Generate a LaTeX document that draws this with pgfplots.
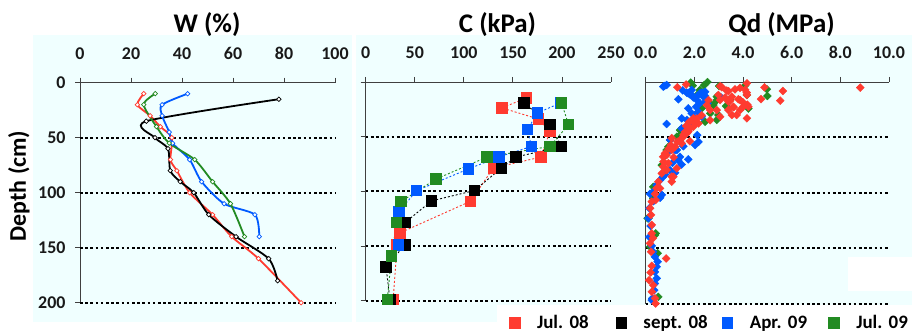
\documentclass[border=0pt]{standalone}
\usepackage{fontspec}
\setmainfont{Carlito}
\usepackage{pgfplots}
\usepackage{pgfplotstable}
\pgfplotsset{compat=1.18}
\definecolor{cred}{RGB}{255,59,48}
\definecolor{cblue}{RGB}{0,90,255}
\definecolor{cgreen}{RGB}{34,139,34}
\definecolor{bgc}{RGB}{240,255,255}

% ---- panel 1: W (%) ----
\pgfplotstableread{
W d
25 10
22.5 20
27.5 30
31.5 40
36 50
35.5 70
38 80
43 100
52 120
59.5 140
70 160
86.7 200
}\wred
\pgfplotstableread{
W d
78 15
26 35
29.4 50
34.5 60
35.4 80
39.3 90
44.6 100
50.5 120
61.2 140
74 160
77.5 180
}\wblack
\pgfplotstableread{
W d
42.2 10
32.2 20
32.2 30
35 45
36.3 55
43 70
47.7 90
56.5 110
68.6 120
70.3 140
}\wblue
\pgfplotstableread{
W d
29.5 10
25 20
30 40
35 55
45 70
52 90
59 110
64.5 140
}\wgreen
% ---- panel 2: C (kPa) ----
\pgfplotstableread{
C d
164 14.5
138.8 23.7
175.8 33.8
187.7 45
178.8 68.6
130 78.7
107 109
34.9 138
32 149
28 199
}\cred
\pgfplotstableread{
C d
161.4 19
187.7 39
199.5 59
153 68.6
138.4 78.7
110.6 99.3
67.2 108.7
40 128.6
40 149
20.7 169
24.7 199
}\cblack
\pgfplotstableread{
C d
199 19
175 28.3
164.8 43.6
169 58.9
135.6 68.6
105 79.4
51.9 99.3
33.9 118.5
33.2 149
}\cblue
\pgfplotstableread{
C d
199.5 19
206.8 39
187.7 58.9
123.7 68.6
71.5 88.8
35.9 109.4
31.5 128.6
26.4 158.9
22 199
}\cgreen
% ---- panel 3: Qd (MPa) ----
\pgfplotstableread{
Q d
1.3 4.8
1.66 2.3
3.06 3.8
3.13 4.8
3.33 7.8
3.67 6.6
3.88 5.3
4.16 1.2
4.09 7
4.16 11.7
4.15 9.6
4.88 4.8
5.64 8.1
5.53 16.9
4.74 15.4
8.82 5.1
3.54 13.3
3.88 16.3
4.22 22.3
4.16 32.8
3.88 25.3
3.6 22.3
3.4 17.8
3.06 16.3
2.99 11.7
3.4 25.3
3.06 31.3
2.92 25.3
2.65 25.3
2.51 20.8
3.74 29.8
3.54 29.8
2.58 16.3
3.4 8.2
3.26 14
3.47 17
3.81 15.5
4.0 18.4
3.61 22.8
4.18 20.5
4.02 22
2.3 30
2.1 33
2.65 34.5
2.17 37.4
1.96 40.4
1.75 44.7
1.55 47.7
1.07 50.6
1.82 53.5
2.03 37.3
1.82 41.8
1.62 44.9
1.55 49.4
1.41 52.4
1.21 58.4
1.07 61.4
0.79 64.4
0.72 67.5
0.93 73.4
1.07 85.5
0.86 79.5
1.28 78
1.48 55.4
1.69 46.3
0.72 76.5
0.66 82.5
0.52 90
0.45 96
1.96 32.8
1.79 35.9
1.66 39.7
1.03 56.9
1.14 85.5
1.07 90
0.86 66
0.73 71.9
0.59 96
1.3 54
0.95 60
1.15 68
0.38 101
0.41 106.6
0.25 108
0.18 114
0.22 120
0.25 129
0.25 136.7
0.3 141
0.18 145.7
0.22 153.3
0.84 159.3
0.25 166
0.2 172
0.14 179
0.31 183.4
0.25 189.4
0.38 195.4
0.41 200
}\qred
\pgfplotstableread{
Q d
0.77 3.6
0.86 2.7
0.72 4.2
1.34 15.6
1.52 7.6
1.69 9.6
1.82 11.1
1.96 14
2.31 9.6
2.44 12.6
1.75 10.2
1.89 11.7
2.12 12.6
2.37 11.7
2.44 17.8
2.23 19.2
2.07 22.3
2.16 26.8
1.89 28.3
2.3 31.3
1.69 34.3
0.86 37.9
1.48 41.8
1.69 46.3
2.12 47.9
2.03 56.9
1.41 53.9
1.21 61.4
1 52.4
1.34 70.5
1.75 69.8
1 79.5
0.59 88.5
0.45 93
0.31 99
0.66 102
1.75 23.8
2.1 16.3
2.37 13.3
2.23 10.2
2.44 8.8
1.89 7.2
2.54 19.2
2.16 27.7
2.03 32.8
1.48 32.8
1.71 44.9
1.9 40
3.1 14
0.93 63
1.41 67.5
1.21 81.9
2.17 54
1.28 61.4
1.55 58
1.1 73
0.8 83.5
0.7 86
1.48 74.5
0.59 104.5
0.32 107.5
0.15 114
0.18 101
0.11 123
0.2 130
0.15 140
0.25 148
0.31 153.3
0.38 157.8
0.49 162.3
0.45 166.8
0.38 171.4
0.45 177.3
0.38 181.9
0.35 187.9
0.27 195.4
0.25 197
}\qblue
\pgfplotstableread{
Q d
1.85 0.6
2.54 0
2.4 3
1.93 3.3
2.23 7.2
2.1 12
3.02 3.6
2.92 13.3
2.58 17.8
2.78 20.8
2.65 28.3
2.92 34.3
2.44 35.9
3.47 16.3
4.98 6.6
5 12.6
4.16 11.7
4.09 3
4.22 24
2.92 16.3
3.3 21.7
2.99 29.8
2.3 23.8
1.75 38.8
1.41 43.4
1.62 44.9
1.34 49.4
1.28 49.4
1 52.4
0.93 58.4
0.86 61.4
0.8 66
0.66 75
0.31 94.6
0.31 105
0.08 123
0.11 123.1
0.41 136.7
0.38 138.2
0.18 148.8
0.49 154.7
0.52 194
}\qgreen

\pgfplotsset{
  panel/.style={
    scale only axis,
    y dir=reverse, ymin=0, ymax=200,
    axis x line=top, axis y line=left,
    axis line style={-, black!75, line width=0.8bp},
    tick align=outside,
    major tick length=5bp,
    tick style={black!75, line width=0.8bp},
    ytick={0,50,100,150,200},
    extra y ticks={50,100,150,200},
    extra y tick labels={},
    extra y tick style={grid=major, major tick length=0pt,
      major grid style={black, line width=2bp, dash pattern=on 2.6bp off 2.6bp}},
    ticklabel style={font=\fontsize{18}{18}\selectfont\bfseries, text=black!90},
    xticklabel style={yshift=15bp},
    /pgf/number format/assume math mode=true,
    clip=false,
  },
  wline/.style={line width=1.8bp, smooth, tension=0.45, mark=square*, mark size=1.6bp,
    mark options={fill=white, line width=0.7bp, rotate=45}},
  cline/.style={line width=0.9bp, dash pattern=on 2bp off 2bp, mark=square*, mark size=5.2bp,
    mark options={solid}},
  qpts/.style={only marks, mark=square*, mark size=2.8bp, mark options={rotate=45}},
}

\begin{document}
\begin{tikzpicture}
\path[use as bounding box] (0,0) rectangle (912bp,333bp);
\fill[white] (0,0) rectangle (912bp,333bp);
\fill[bgc] (33bp,11bp) rectangle (912bp,298bp);
\fill[white] (352bp,11bp) rectangle (356bp,298bp);
\fill[white] (497bp,0bp) rectangle (912bp,28bp);
\fill[white] (848bp,42bp) rectangle (912bp,76bp);

% Panel 1
\begin{axis}[panel, at={(80bp,250.3bp)}, anchor=north west,
  width=255bp, height=220bp, xmin=0, xmax=100, xtick={0,20,...,100},
  yticklabel style={xshift=-6bp}]
  \addplot[cred, wline] table[x=W,y=d] {\wred};
  \addplot[black, wline] table[x=W,y=d] {\wblack};
  \addplot[cblue, wline] table[x=W,y=d] {\wblue};
  \addplot[cgreen, wline] table[x=W,y=d] {\wgreen};
\end{axis}

% Panel 2
\begin{axis}[panel, at={(365.7bp,251bp)}, anchor=north west,
  width=245.3bp, height=218.7bp, xmin=0, xmax=250, xtick={0,50,...,250},
  yticklabels={},
  legend style={at={(0.584,-0.102)}, anchor=west, draw=none, fill=none, inner sep=0pt,
    legend columns=4, font=\fontsize{19}{19}\selectfont\bfseries,
    nodes={inner sep=0pt, text width=76bp, align=left},
    /tikz/every odd column/.append style={column sep=17bp},
    /tikz/every even column/.append style={column sep=2.5bp}}]
  \addlegendimage{legend image code/.code={\fill[cred] (0bp,-5bp) rectangle (10.5bp,5.5bp);}}
  \addlegendentry{Jul.\ 08}
  \addlegendimage{legend image code/.code={\fill[black] (0bp,-5bp) rectangle (10.5bp,5.5bp);}}
  \addlegendentry{sept.\ 08}
  \addlegendimage{legend image code/.code={\fill[cblue] (0bp,-5bp) rectangle (10.5bp,5.5bp);}}
  \addlegendentry{Apr.\ 09}
  \addlegendimage{legend image code/.code={\fill[cgreen] (0bp,-5bp) rectangle (10.5bp,5.5bp);}}
  \addlegendentry{Jul.\ 09}
  \addplot[cred, cline, forget plot] table[x=C,y=d] {\cred};
  \addplot[black, cline, forget plot] table[x=C,y=d] {\cblack};
  \addplot[cblue, cline, forget plot] table[x=C,y=d] {\cblue};
  \addplot[cgreen, cline, forget plot] table[x=C,y=d] {\cgreen};
\end{axis}

% Panel 3
\begin{axis}[panel, at={(645.7bp,251bp)}, anchor=north west,
  width=243.3bp, height=221.5bp, xmin=0, xmax=10, xtick={0,2,...,10},
  yticklabels={}, y tick style={draw=none},
  xticklabel style={/pgf/number format/.cd, fixed, fixed zerofill, precision=1}]
  \addplot[cgreen, qpts] table[x=Q,y=d] {\qgreen};
  \addplot[cblue, qpts] table[x=Q,y=d] {\qblue};
  \addplot[cred, qpts] table[x=Q,y=d] {\qred};
\end{axis}

\node[font=\fontsize{27}{27}\selectfont\bfseries] at (207bp,308bp) {W (\%)};
\node[font=\fontsize{27}{27}\selectfont\bfseries] at (497.5bp,308bp) {C (kPa)};
\node[font=\fontsize{27}{27}\selectfont\bfseries] at (781.5bp,308bp) {Qd (MPa)};
\node[font=\fontsize{24}{24}\selectfont\bfseries, rotate=90] at (19bp,147bp) {Depth (cm)};
\end{tikzpicture}
\end{document}
